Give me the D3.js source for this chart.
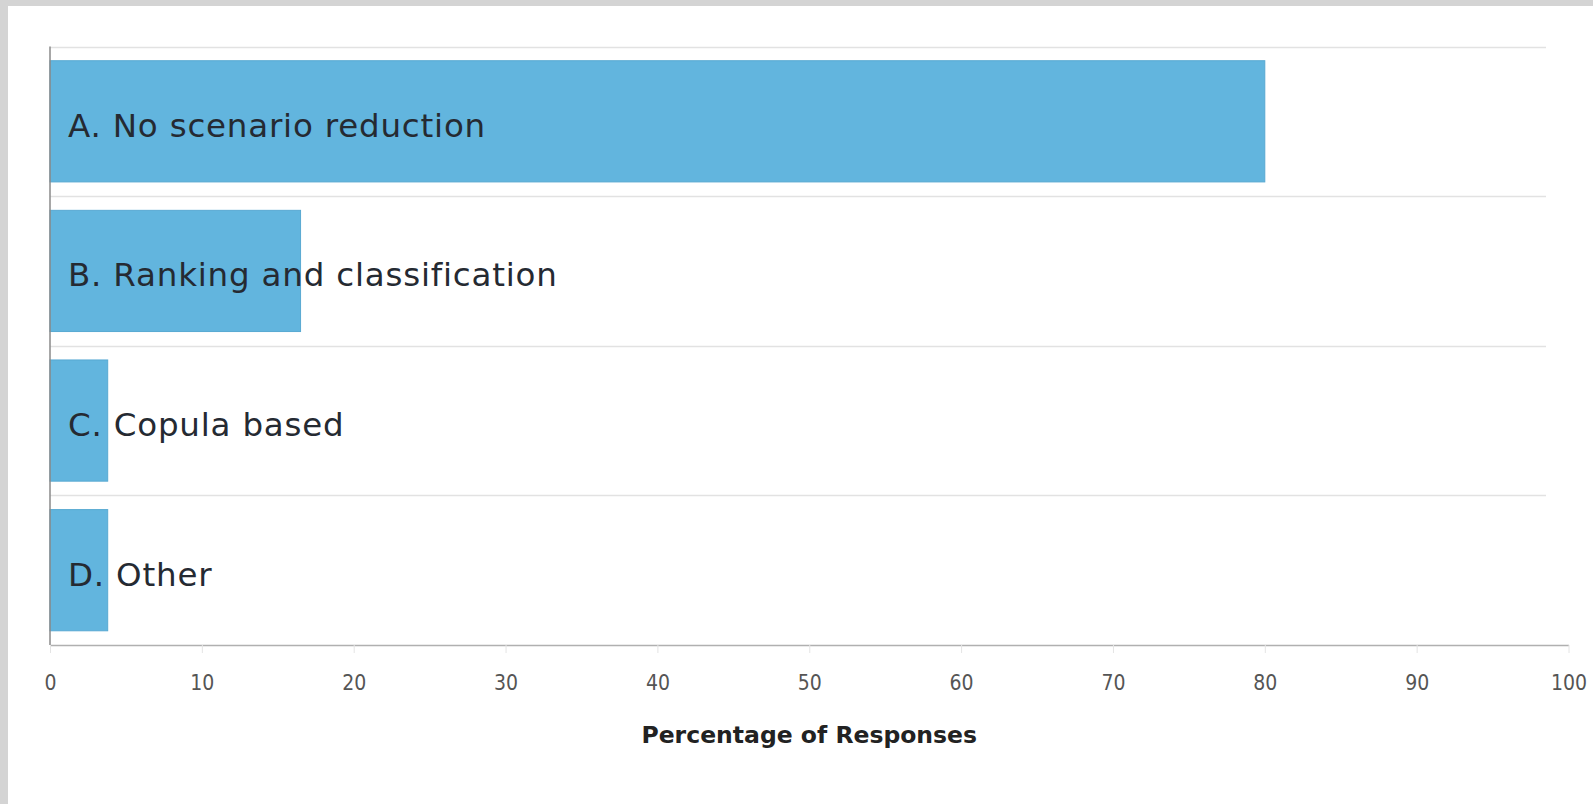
<!DOCTYPE html>
<html>
<head>
<meta charset="utf-8">
<script src="https://cdn.jsdelivr.net/npm/d3@7"></script>
<style>
  html, body { margin: 0; padding: 0; background: #d4d4d4; }
  #chart { position: absolute; left: 8px; top: 6px; width: 1585px; height: 798px; background: #fff; }
</style>
</head>
<body>
<div id="chart"></div>
<script>
const categories = ["A. No scenario reduction", "B. Ranking and classification", "C. Copula based", "D. Other"];
const values = [80.0, 16.5, 3.8, 3.8];
const xTicks = [0, 10, 20, 30, 40, 50, 60, 70, 80, 90, 100];
const xTitle = "Percentage of Responses";

const W = 1585, H = 798;
// chart div sits at (8,6) of the page
const plot = { left: 42, right: 1560.5, top: 40.5, bottom: 639 };

const svg = d3.select("#chart").append("svg")
  .attr("width", W).attr("height", H);

const x = d3.scaleLinear().domain([0, 100]).range([plot.left, plot.right]);
const y = d3.scaleBand().domain(categories).range([plot.top, plot.bottom])
  .paddingInner(0.19).paddingOuter(0.095);

// row separators
const edges = categories.map((c) => y(c) - y.step() * 0.095);
svg.append("g")
  .selectAll("line")
  .data(edges)
  .join("line")
  .attr("x1", plot.left).attr("x2", 1538)
  .attr("y1", (d) => Math.round(d) + 0.5).attr("y2", (d) => Math.round(d) + 0.5)
  .attr("stroke", "#e2e2e2").attr("stroke-width", 1.5);

// bars
svg.append("g")
  .selectAll("rect")
  .data(values)
  .join("rect")
  .attr("x", x(0))
  .attr("y", (d, i) => y(categories[i]))
  .attr("width", (d) => x(d) - x(0))
  .attr("height", y.bandwidth())
  .attr("fill", "#62b5de")
  .attr("stroke", "#58a9d2").attr("stroke-width", 1);

// labels inside the bands
svg.append("g")
  .selectAll("text")
  .data(categories)
  .join("text")
  .attr("x", plot.left + 18)
  .attr("y", (d) => y(d) + y.bandwidth() / 2 + 4)
  .attr("dy", "0.35em")
  .attr("font-family", "'DejaVu Sans', Verdana, sans-serif")
  .attr("font-size", "32.5px")
  .attr("letter-spacing", "0.8px")
  .attr("fill", "#252a32")
  .text((d) => d);

// left axis line
svg.append("line")
  .attr("x1", plot.left).attr("x2", plot.left)
  .attr("y1", plot.top).attr("y2", plot.bottom)
  .attr("stroke", "#8a8a8a").attr("stroke-width", 1.5);

// bottom axis
const xAxis = svg.append("g")
  .attr("transform", `translate(0,${plot.bottom})`)
  .call(d3.axisBottom(x).tickValues(xTicks).tickSize(8).tickSizeOuter(0).tickPadding(22));

xAxis.select(".domain").attr("stroke", "#b0b0b0").attr("stroke-width", 1.5);
xAxis.selectAll(".tick line").attr("stroke", "#e4e4e4");
xAxis.selectAll(".tick text")
  .attr("fill", "#555")
  .attr("font-family", "'DejaVu Sans Condensed', 'DejaVu Sans', sans-serif")
  .attr("font-size", "21px");

// axis title
svg.append("text")
  .attr("x", (plot.left + plot.right) / 2)
  .attr("y", 729)
  .attr("dy", "0.35em")
  .attr("text-anchor", "middle")
  .attr("font-family", "'DejaVu Sans', sans-serif")
  .attr("font-weight", "bold")
  .attr("font-size", "23.5px")
  .attr("fill", "#222")
  .text(xTitle);
</script>
</body>
</html>
